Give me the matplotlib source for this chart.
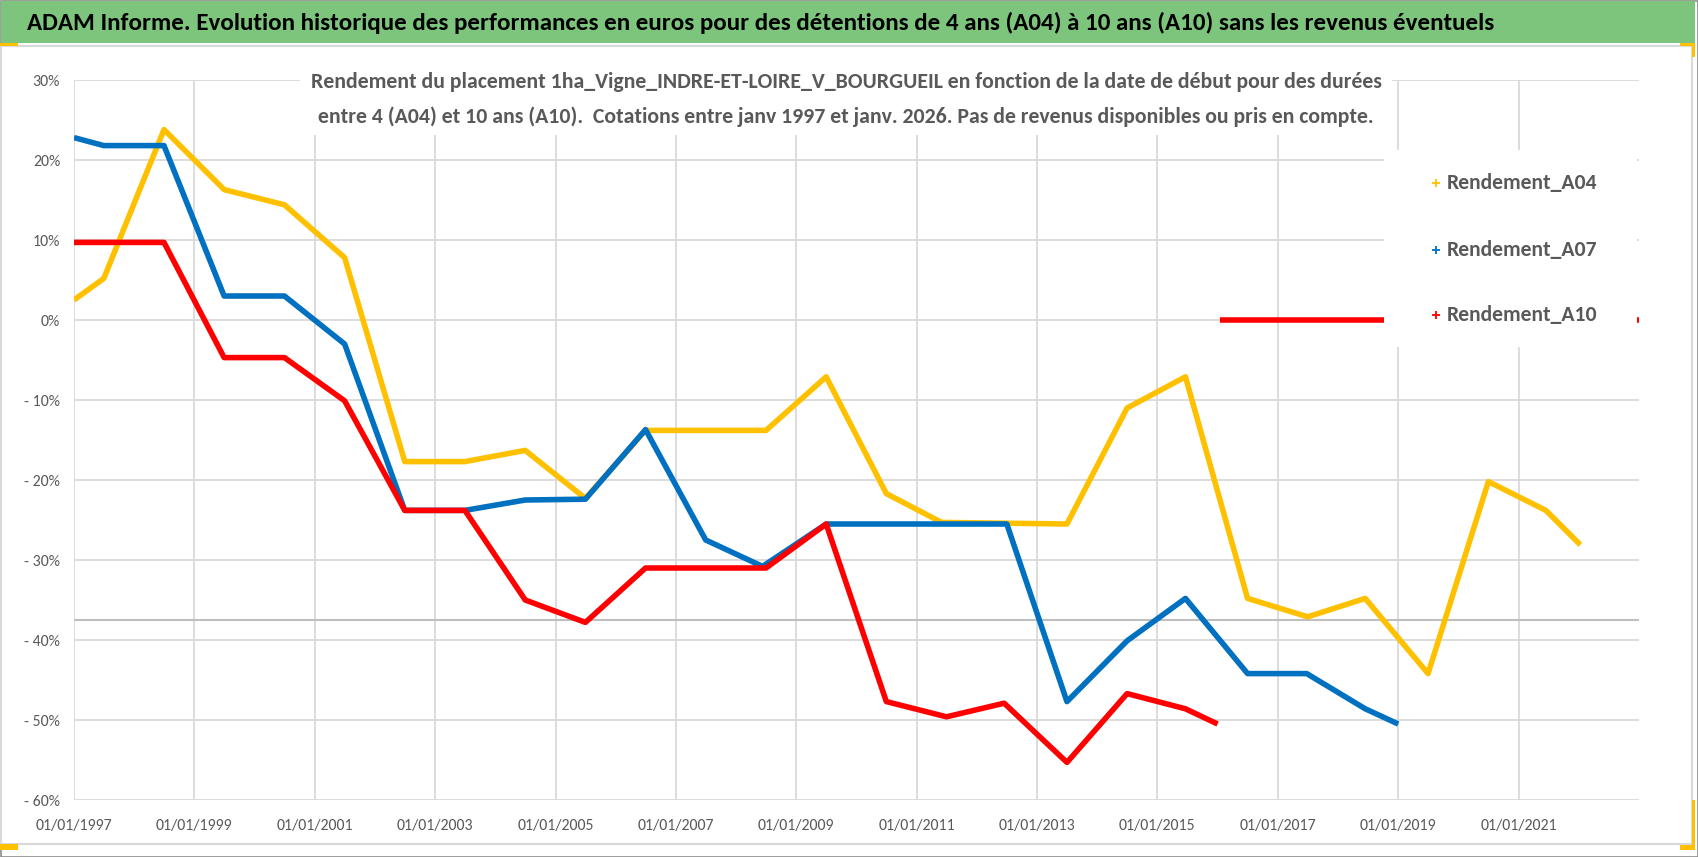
import matplotlib
matplotlib.use('Agg')
import matplotlib.pyplot as plt
import matplotlib.dates as mdates
from matplotlib.lines import Line2D
from matplotlib.patches import Rectangle
from matplotlib.ticker import FuncFormatter
from matplotlib import font_manager
import numpy as np
import pandas as pd

W, H, DPI = 1698, 857, 100

title = ("ADAM Informe. Evolution historique des performances en euros pour des détentions "
         "de 4 ans (A04) à 10 ans (A10) sans les revenus éventuels")
subtitle_lines = [
    "Rendement du placement 1ha_Vigne_INDRE-ET-LOIRE_V_BOURGUEIL en fonction de la date de début pour des durées",
    "entre 4 (A04) et 10 ans (A10).  Cotations entre janv 1997 et janv. 2026. Pas de revenus disponibles ou pris en compte.",
]
series_names = ["Rendement_A04", "Rendement_A07", "Rendement_A10"]
series_colors = ["#FFC000", "#0070C0", "#FF0000"]

# values (rendement in %)
dates_a04 = ["1997-01-01", "1997-07-01", "1998-07-01", "1999-07-01", "2000-07-01", "2001-07-01",
             "2002-07-01", "2003-07-01", "2004-07-01", "2005-07-01", "2006-07-01", "2008-07-01",
             "2009-07-01", "2010-07-01", "2011-06-01", "2013-07-01", "2014-07-01", "2015-06-20",
             "2016-07-01", "2017-07-01", "2018-06-15", "2019-07-01", "2020-07-01", "2021-06-15",
             "2022-01-10"]
rend_a04 = [2.5, 5.2, 23.8, 16.3, 14.4, 7.8,
            -17.7, -17.7, -16.3, -22.3, -13.8, -13.8,
            -7.1, -21.7, -25.3, -25.5, -11.0, -7.1,
            -34.8, -37.1, -34.8, -44.2, -20.2, -23.8,
            -28.1]

dates_a07 = ["1997-01-01", "1997-07-01", "1998-07-01", "1999-07-01", "2000-07-01", "2001-07-01",
             "2002-07-01", "2003-07-01", "2004-07-01", "2005-07-01", "2006-07-01", "2007-07-01",
             "2008-06-10", "2009-07-01", "2012-07-01", "2013-07-01", "2014-07-01", "2015-06-20",
             "2016-07-01", "2017-06-25", "2018-06-15", "2019-01-01"]
rend_a07 = [22.8, 21.8, 21.8, 3.0, 3.0, -3.0,
            -23.8, -23.8, -22.5, -22.4, -13.7, -27.5,
            -30.8, -25.5, -25.5, -47.7, -40.1, -34.8,
            -44.2, -44.2, -48.6, -50.5]

dates_a10 = ["1997-01-01", "1998-07-01", "1999-07-01", "2000-07-01", "2001-07-01", "2002-07-01",
             "2003-07-01", "2004-07-01", "2005-07-01", "2006-07-01", "2008-07-01", "2009-07-01",
             "2010-07-01", "2011-07-01", "2012-06-15", "2013-07-01", "2014-07-01", "2015-06-20",
             "2016-01-01", "2016-01-08", "2016-01-15", "2023-01-01"]
rend_a10 = [9.7, 9.7, -4.7, -4.7, -10.1, -23.8,
            -23.8, -35.0, -37.8, -31.0, -31.0, -25.5,
            -47.7, -49.6, -47.9, -55.3, -46.7, -48.6,
            -50.5, np.nan, 0.0, 0.0]

y_ticks = [30, 20, 10, 0, -10, -20, -30, -40, -50, -60]
x_tick_years = list(range(1997, 2022, 2))

# Carlito = Calibri metrics, fall back if missing
installed = {f.name for f in font_manager.fontManager.ttflist}
cands = ["Carlito", "Liberation Sans Narrow", "Noto Sans", "DejaVu Sans"]
FONT = next(c for c in cands if c in installed)

plt.rcParams['font.family'] = [FONT, 'DejaVu Sans']

fig = plt.figure(figsize=(W / DPI, H / DPI), dpi=DPI)
ax = fig.add_axes([74 / W, 1 - 800 / H, 1565 / W, 720 / H])


def px_rect(x0, y0, x1, y1, **kw):
    # rectangle in figure pixels, y measured from the top
    r = Rectangle((x0 / W, 1 - y1 / H), (x1 - x0) / W, (y1 - y0) / H,
                  transform=fig.transFigure, **kw)
    fig.patches.append(r)
    return r


# frame, title bar, selection marks
px_rect(0.5, 0.5, W - 0.5, H - 0.5, fill=False, ec="#8C8C8C", lw=1.2, zorder=0)
px_rect(1, 1, 1695, 43, fc="#7DC57D", ec="none", zorder=0)
px_rect(1, 46, 1692, 844, fill=False, ec="#D9D9D9", lw=1.5, zorder=0)
for r in [(0, 43, 18, 46), (1680, 43, 1695, 46), (1692, 43, 1695, 57),
          (1692, 800, 1695, 850), (1680, 845, 1695, 850), (0, 844, 18, 850)]:
    px_rect(*r, fc="#FFC000", ec="none", zorder=0)

all_dates = [dates_a04, dates_a07, dates_a10]
all_vals = [rend_a04, rend_a07, rend_a10]
for d, v, c in zip(all_dates, all_vals, series_colors):
    ax.plot(pd.to_datetime(d), v, color=c, lw=4.0, solid_joinstyle='round',
            solid_capstyle='butt', zorder=3)

ax.set_xlim(pd.Timestamp("1997-01-01"), pd.Timestamp("2023-01-01"))
ax.set_ylim(-60, 30)
ax.set_yticks(y_ticks)
ax.set_xticks([pd.Timestamp(f"{y}-01-01") for y in x_tick_years])
ax.xaxis.set_major_formatter(mdates.DateFormatter("%d/%m/%Y"))
ax.yaxis.set_major_formatter(FuncFormatter(lambda v, p: f"{v:.0f}%" if v >= 0 else f"- {abs(v):.0f}%"))
ax.grid(True, color="#D9D9D9", lw=1.3)
ax.axhline(-37.5, color="#BFBFBF", lw=1.5, zorder=1)
ax.set_axisbelow(True)
for s in ax.spines.values():
    s.set_visible(False)
ax.tick_params(length=0, colors="#595959")
ax.tick_params(axis='y', pad=10)
ax.tick_params(axis='x', pad=14)

# size text to the widths measured on the original
renderer = fig.canvas.get_renderer()


def fit(txt, target):
    w = txt.get_window_extent(renderer).width
    txt.set_fontsize(txt.get_fontsize() * target / w)
    return txt.get_fontsize()


probe = fig.text(0, 0, "01/01/1997", fontsize=10)
tick_fs = fit(probe, 77)
probe.remove()
for lab in ax.get_xticklabels() + ax.get_yticklabels():
    lab.set_fontsize(tick_fs)

t = fig.text(27 / W, 1 - 23 / H, title, fontsize=18, fontweight='bold', color="black",
             ha='left', va='center')
fit(t, 1468)

# white patch behind subtitle
px_rect(300, 55, 1392, 135, fc="white", ec="none", zorder=1)
s1 = fig.text(846 / W, 1 - 82 / H, subtitle_lines[0], fontsize=14, fontweight='bold',
              color="#595959", ha='center', va='center', zorder=2)
sub_fs = fit(s1, 1076)
s2 = fig.text(846 / W, 1 - 117 / H, subtitle_lines[1], fontsize=sub_fs, fontweight='bold',
              color="#595959", ha='center', va='center', zorder=2)

# legend with white background over the plot
px_rect(1384, 150, 1637, 347, fc="white", ec="none", zorder=4)
leg_y = [183, 250, 315]
for name, c, yy in zip(series_names, series_colors, leg_y):
    fig.lines.append(Line2D([1436 / W], [1 - yy / H], transform=fig.transFigure, marker='+',
                            ms=6, mew=1.3, color=c, ls='none', zorder=5))
    lt = fig.text(1447 / W, 1 - yy / H, name, fontsize=14, fontweight='bold',
                  color="#595959", ha='left', va='center', zorder=5)
    fit(lt, 151)

fig.savefig("out.png", dpi=DPI)
